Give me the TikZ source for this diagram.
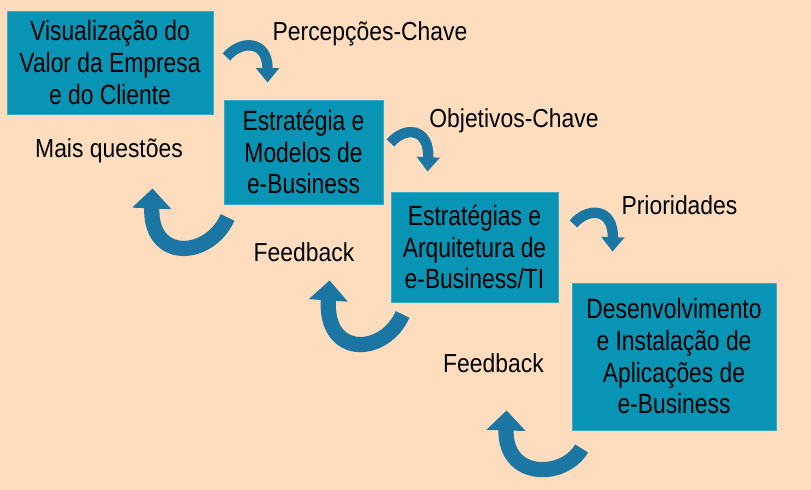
\documentclass[tikz,border=0pt]{standalone}
\usepackage{fontspec}
\setmainfont[FakeStretch=0.82]{Liberation Sans}
\newfontfamily\labelfont[FakeStretch=0.88]{Liberation Sans}
\usetikzlibrary{arrows.meta}

\definecolor{peach}{RGB}{253,221,190}
\definecolor{boxteal}{RGB}{8,149,181}
\definecolor{arrowblue}{RGB}{28,118,163}

\begin{document}
\begin{tikzpicture}[x=0.025cm,y=-0.025cm,
	box/.style={fill=boxteal,draw=boxteal!80!white,line width=0.6pt,inner sep=0pt,align=center,font=\fontsize{19.8}{22.5}\selectfont},
	tag/.style={anchor=base,inner sep=0pt,font=\labelfont\fontsize{18.5}{22}\selectfont},
	keyarrow/.style={arrowblue,line width=0.26cm,-{Triangle[width=0.56cm,length=0.36cm]}},
	feedarrow/.style={arrowblue,line width=0.38cm,-{Triangle[width=0.95cm,length=0.5cm]}}]
			% background
			\fill[peach] (0,0) rectangle (811,490);
			
			% boxes
			\node[box,minimum width=5.15cm,minimum height=2.575cm] (valor) at (110,62.5) {Visualização do\\Valor da Empresa\\e do Cliente};
			\node[box,minimum width=3.975cm,minimum height=2.6cm] (estrategia) at (303.5,152) {Estratégia e\\Modelos de\\e-Business};
			\node[box,minimum width=4.175cm,minimum height=2.75cm] (arquitetura) at (474.5,247) {Estratégias e\\Arquitetura de\\e-Business/TI};
			\node[box,minimum width=5.1cm,minimum height=3.675cm] (aplicacoes) at (674,356.5) {Desenvolvimento\\e Instalação de\\Aplicações de\\e-Business};
			
			% labels
			\node[tag] (percepcoes) at (370,41) {Percepções-Chave};
			\node[tag] (objetivos) at (514,128) {Objetivos-Chave};
			\node[tag] (prioridades) at (679.5,215) {Prioridades};
			\node[tag] (questoes) at (109,158) {Mais questões};
			\node[tag] (feedbackA) at (304,262) {Feedback};
			\node[tag] (feedbackB) at (493.5,373) {Feedback};
			
			% key arrows
			\draw[keyarrow] ([shift={(13,-5.5)}]valor.east) .. controls +(14,-17) and +(0,-43) .. ([shift={(44,-17)}]estrategia.north west);
			\draw[keyarrow] ([shift={(7,-9)}]estrategia.east) .. controls +(14,-17) and +(2,-44) .. ([shift={(37,-20)}]arquitetura.north west);
			\draw[keyarrow] ([shift={(15,-23)}]arquitetura.east) .. controls +(14,-17) and +(1,-44) .. ([shift={(41,-31)}]aplicacoes.north west);
			
			% feedback arrows
			\draw[feedarrow] ([shift={(4,13)}]estrategia.south west) .. controls +(-18,41) and +(-3,74) .. ([shift={(-71,-16)}]estrategia.south west);
			\draw[feedarrow] ([shift={(12,12)}]arquitetura.south west) .. controls +(-18,41) and +(-5,78) .. ([shift={(-61,-22)}]arquitetura.south west);
			\draw[feedarrow] ([shift={(10,18)}]aplicacoes.south west) .. controls +(-17,30) and +(-2,70) .. ([shift={(-65,-20)}]aplicacoes.south west);
		\end{tikzpicture}
\end{document}
